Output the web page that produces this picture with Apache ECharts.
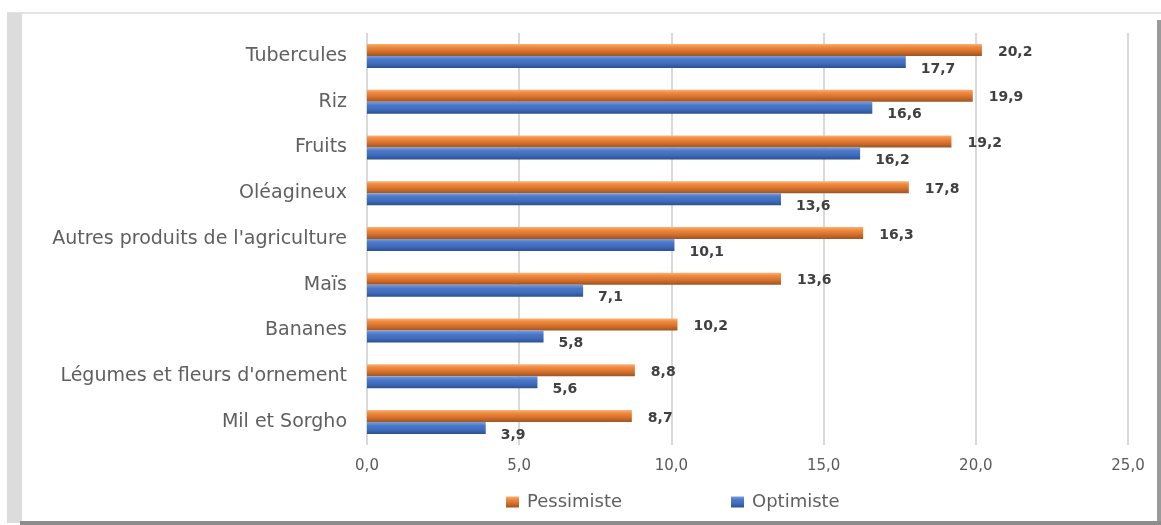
<!DOCTYPE html>
<html>
<head>
<meta charset="utf-8">
<script src="https://cdn.jsdelivr.net/npm/echarts@6/dist/echarts.min.js"></script>
<style>
    html, body { margin: 0; padding: 0; background: #fff; }
    #chart { width: 1161px; height: 525px; }
</style>
</head>
<body>
<div id="chart"></div>
<script>
    const categories = [
        'Tubercules', 'Riz', 'Fruits', 'Oléagineux', "Autres produits de l'agriculture",
        'Maïs', 'Bananes', "Légumes et fleurs d'ornement", 'Mil et Sorgho'
    ]
    const pessimiste = [20.2, 19.9, 19.2, 17.8, 16.3, 13.6, 10.2, 8.8, 8.7]
    const optimiste = [17.7, 16.6, 16.2, 13.6, 10.1, 7.1, 5.8, 5.6, 3.9]

    const fmt = v => v.toFixed(1).replace('.', ',')
    const font = '"DejaVu Sans", "Open Sans", sans-serif'

    const orangeFill = new echarts.graphic.LinearGradient(0, 0, 0, 1, [
        {offset: 0, color: '#f9b27a'},
        {offset: 0.25, color: '#f08a3e'},
        {offset: 0.6, color: '#d9712c'},
        {offset: 1, color: '#9a5524'}
    ])
    const blueFill = new echarts.graphic.LinearGradient(0, 0, 0, 1, [
        {offset: 0, color: '#7d9ddc'},
        {offset: 0.3, color: '#4a78c8'},
        {offset: 0.65, color: '#3f6bbb'},
        {offset: 1, color: '#2c4f8f'}
    ])

    const legendBase = {
        top: 488,
        itemWidth: 13,
        itemHeight: 11,
        icon: 'rect',
        textStyle: {fontSize: 18, color: '#5f5f5f', fontFamily: font, padding: [0, 0, 0, 3]}
    }

    const valueLabel = {
        show: true,
        position: 'right',
        formatter: p => fmt(p.value),
        color: '#404040',
        fontWeight: 'bold',
        fontSize: 14,
        fontFamily: font
    }

    const chart = echarts.init(document.getElementById('chart'))
    chart.setOption({
        animation: false,
        textStyle: {fontFamily: font},
        grid: {left: 367, right: 33, top: 33, bottom: 80, containLabel: false},
        legend: [
            Object.assign({data: ['Pessimiste'], left: 501}, legendBase),
            Object.assign({data: ['Optimiste'], left: 726}, legendBase)
        ],
        xAxis: {
            type: 'value',
            min: 0,
            max: 25,
            interval: 5,
            axisLine: {show: false},
            axisTick: {show: false},
            splitLine: {lineStyle: {color: '#d9d9d9', width: 2}},
            axisLabel: {formatter: fmt, color: '#595959', fontSize: 15, margin: 14}
        },
        yAxis: {
            type: 'category',
            inverse: true,
            data: categories,
            axisLine: {show: false},
            axisTick: {show: false},
            axisLabel: {color: '#5f5f5f', fontSize: 19, margin: 20}
        },
        series: [
            {
                name: 'Pessimiste',
                type: 'bar',
                data: pessimiste,
                barWidth: 12,
                barGap: '0%',
                itemStyle: {color: orangeFill},
                label: Object.assign({distance: 16, offset: [0, 2]}, valueLabel)
            },
            {
                name: 'Optimiste',
                type: 'bar',
                data: optimiste,
                barWidth: 12,
                barGap: '0%',
                itemStyle: {color: blueFill},
                label: Object.assign({distance: 15, offset: [0, 7]}, valueLabel)
            }
        ],
        graphic: [
            // frame of the original picture
            {type: 'rect', shape: {x: 7, y: 12, width: 1154, height: 2}, style: {fill: '#e3e3e3'}, silent: true},
            {type: 'rect', shape: {x: 7, y: 13, width: 15, height: 510}, style: {fill: '#dcdcdc'}, silent: true},
            {type: 'rect', shape: {x: 1157, y: 20, width: 4, height: 504}, style: {fill: '#9a9a9a'}, silent: true},
            {type: 'rect', shape: {x: 20, y: 521, width: 1141, height: 4}, style: {fill: '#8c8c8c'}, silent: true}
        ]
    })

    window.addEventListener('resize', () => chart.resize())
</script>
</body>
</html>
